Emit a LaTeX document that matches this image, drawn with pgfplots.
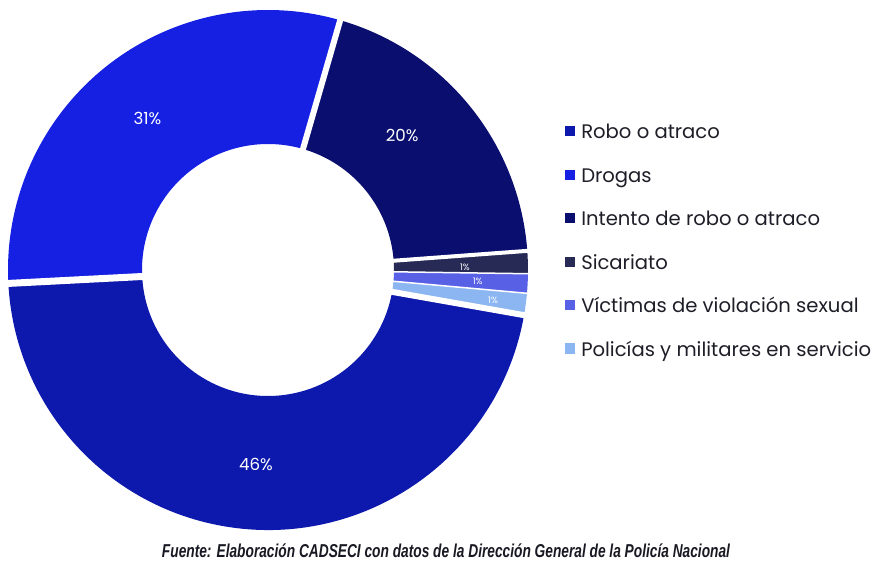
\documentclass[border=0pt]{standalone}
\usepackage{pgfplots}
\pgfplotsset{compat=1.18}
\usepackage{pgfplotstable}
\usepackage{fontspec}
\setmainfont{Poppins}
\newfontfamily\capfont{Liberation Sans}
\usepackage{graphicx}

\definecolor{cRobo}{RGB}{13,24,172}
\definecolor{cDrogas}{RGB}{22,32,226}
\definecolor{cIntento}{RGB}{10,14,110}
\definecolor{cSicariato}{RGB}{38,42,85}
\definecolor{cVictimas}{RGB}{88,96,230}
\definecolor{cPolicias}{RGB}{140,182,242}

% value = share of the circle (as drawn), pct = printed label
% labr = label radius (px), lsh = label angle shift (deg), fs = label font size (pt), gap = white gap before slice (px)
\pgfplotstableread[col sep=comma]{
name,value,pct,col,labr,lsh,fs,gap
Robo o atraco,46.4,46,cRobo,195,0,12.5,6
Drogas,30.3,31,cDrogas,194,0,12.5,7
Intento de robo o atraco,19.35,20,cIntento,190,6,12.5,6
Sicariato,1.4,1,cSicariato,197,-0.8,6.8,4
Víctimas de violación sexual,1.2,1,cVictimas,210,0,6.8,1.5
Policías y militares en servicio,1.35,1,cPolicias,227,0,6.8,1.5
}\data

\begin{document}
\begin{tikzpicture}
\useasboundingbox (0,0) rectangle (658.5pt,423.75pt);
\begin{axis}[
  at={(0,0)}, anchor=south west,
  width=658.5pt, height=423.75pt, scale only axis,
  xmin=0, xmax=878, ymin=0, ymax=565,
  hide axis, clip=false]
\pgfplotsextra{%
  \coordinate (O) at (axis cs:268,295);
  % slices
  \def\acur{-10}%
  \pgfplotsforeachungrouped \i in {0,...,5}{%
    \pgfplotstablegetelem{\i}{value}\of\data \let\sv\pgfplotsretval
    \pgfplotstablegetelem{\i}{col}\of\data \let\scol\pgfplotsretval
    \pgfmathsetmacro\anext{\acur-3.6*\sv}%
    \fill[fill=\scol] ([shift={(\acur:195pt)}]O) arc[start angle=\acur, end angle=\anext, radius=195pt]
      -- ([shift={(\anext:94.5pt)}]O) arc[start angle=\anext, end angle=\acur, radius=94.5pt] -- cycle;
    \let\acur\anext
  }%
  % gaps
  \def\acur{-10}%
  \pgfplotsforeachungrouped \i in {0,...,5}{%
    \pgfplotstablegetelem{\i}{value}\of\data \let\sv\pgfplotsretval
    \pgfplotstablegetelem{\i}{gap}\of\data \let\sg\pgfplotsretval
    \pgfmathsetmacro\anext{\acur-3.6*\sv}%
    \draw[white, line width=0.75*\sg pt] ([shift={(\acur:90pt)}]O) -- ([shift={(\acur:200pt)}]O);
    \let\acur\anext
  }%
  % labels
  \def\acur{-10}%
  \pgfplotsforeachungrouped \i in {0,...,5}{%
    \pgfplotstablegetelem{\i}{value}\of\data \let\sv\pgfplotsretval
    \pgfplotstablegetelem{\i}{pct}\of\data \let\sp\pgfplotsretval
    \pgfplotstablegetelem{\i}{labr}\of\data \let\slr\pgfplotsretval
    \pgfplotstablegetelem{\i}{lsh}\of\data \let\slsh\pgfplotsretval
    \pgfplotstablegetelem{\i}{fs}\of\data \let\sfs\pgfplotsretval
    \pgfmathsetmacro\anext{\acur-3.6*\sv}%
    \pgfmathsetmacro\amid{(\acur+\anext)/2+\slsh}%
    \pgfmathsetmacro\lr{0.75*\slr}%
    \node[text=white, font=\fontsize{\sfs}{\sfs}\selectfont] at ([shift={(\amid:\lr pt)}]O) {\sp\%};
    \let\acur\anext
  }%
  % legend
  \pgfplotsforeachungrouped \i in {0,...,5}{%
    \pgfplotstablegetelem{\i}{name}\of\data \let\sn\pgfplotsretval
    \pgfplotstablegetelem{\i}{col}\of\data \let\scol\pgfplotsretval
    \pgfmathsetmacro\yb{426-43.4*\i}%
    \fill[fill=\scol] (axis cs:565,\yb+2.5) rectangle (axis cs:575,\yb+12.5);
    \node[anchor=base west, inner sep=0pt, text={rgb,255:red,30;green,30;blue,40}, font=\fontsize{14.7}{15}\selectfont] at (axis cs:581,\yb) {\sn};
  }%
  % caption
  \node[anchor=base, inner sep=0pt, text={rgb,255:red,25;green,25;blue,35}] at (axis cs:446,8)
    {\resizebox{426pt}{\height}{\capfont\bfseries\itshape\fontsize{14}{15}\selectfont Fuente: Elaboración CADSECI con datos de la Dirección General de la Policía Nacional}};
}
\end{axis}
\end{tikzpicture}
\end{document}
